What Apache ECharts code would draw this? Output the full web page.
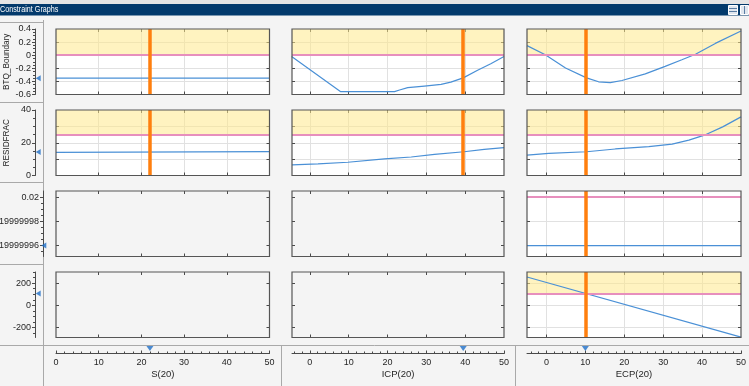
<!DOCTYPE html>
<html><head><meta charset="utf-8">
<script src="https://cdn.jsdelivr.net/npm/echarts@6/dist/echarts.min.js"></script>
<style>html,body{margin:0;padding:0;background:#f4f4f4}#c{width:749px;height:386px}</style>
</head><body><div id="c"></div><script>
// ---------------- data ----------------
const inputNames = ['S(20)', 'ICP(20)', 'ECP(20)'];
const inputRanges = [[0, 50], [-4.6, 50], [-5, 50]];
const inputCurrent = [22, 39.5, 10];
const inputTickLabels = [[0, 10, 20, 30, 40, 50], [0, 10, 20, 30, 40, 50], [0, 10, 20, 30, 40, 50]];
const inputGridTicks = [[10, 20, 30, 40], [0, 10, 20, 30, 40], [0, 10, 20, 30, 40]];

const constraintNames = ['BTQ_Boundary', 'RESIDFRAC', '', ''];
const constraintRanges = [[-0.6, 0.4], [0, 40], [0.0199999951, 0.0200000005], [-288, 300]];
const constraintBounds = [0, 25, 0.02, 108];
const constraintCurrent = [-0.35, 14.4, 0.019999996, 108];
const constraintTickLabels = [[-0.6, -0.4, -0.2, 0, 0.2, 0.4], [0, 20, 40], [0.019999996, 0.019999998, 0.02], [-200, 0, 200]];
const constraintGridTicks = [[-0.4, -0.2, 0, 0.2], [10, 20, 30], [0.019999996, 0.019999998, 0.02], [-200, 0, 200]];
const constraintMinorTicks = [
  [-0.6,-0.55,-0.5,-0.45,-0.4,-0.35,-0.3,-0.25,-0.2,-0.15,-0.1,-0.05,0,0.05,0.1,0.15,0.2,0.25,0.3,0.35,0.4],
  [0,5,10,15,20,25,30,35,40],
  [0.0199999955,0.019999996,0.0199999965,0.019999997,0.0199999975,0.019999998,0.0199999985,0.019999999,0.0199999995,0.02],
  [-250,-200,-150,-100,-50,0,50,100,150,200,250,300]
];
const inputMinorTicks = [
  [0,2,4,6,8,10,12,14,16,18,20,22,24,26,28,30,32,34,36,38,40,42,44,46,48,50],
  [-4,-2,0,2,4,6,8,10,12,14,16,18,20,22,24,26,28,30,32,34,36,38,40,42,44,46,48,50],
  [-4,-2,0,2,4,6,8,10,12,14,16,18,20,22,24,26,28,30,32,34,36,38,40,42,44,46,48,50]
];

// curves
const btqS_x = [0, 50];
const btqS_y = [-0.35, -0.35];
const btqICP_x = [-4.7, 7.95, 21.8, 23.1, 25.2, 29.5, 33.8, 36.3, 39.5, 43.2, 46.6, 50];
const btqICP_y = [-0.02, -0.557, -0.557, -0.532, -0.496, -0.471, -0.446, -0.411, -0.346, -0.23, -0.13, -0.02];
const btqECP_x = [-5, -0.3, 4.9, 10.3, 13.4, 16.4, 19.4, 25.4, 30.5, 34.8, 38.3, 43.4, 50];
const btqECP_y = [0.146, 0.006, -0.196, -0.346, -0.406, -0.42, -0.386, -0.286, -0.17, -0.07, 0.015, 0.18, 0.37];
const resS_x = [0, 50];
const resS_y = [14.1, 14.6];
const resICP_x = [-4.6, 2.1, 9.8, 19.2, 26.1, 32.1, 39.7, 44.9, 50];
const resICP_y = [6.5, 7.1, 8.1, 10.1, 11.3, 12.9, 14.5, 15.9, 17];
const resECP_x = [-5, 0.6, 10.3, 17.7, 26.3, 32.3, 36.6, 41, 45.3, 50];
const resECP_y = [12.5, 13.5, 14.5, 16.2, 17.6, 19.2, 21.6, 25, 29.7, 35.8];
const r3ECP_x = [-5, 50];
const r3ECP_y = [0.019999996, 0.019999996];
const r4ECP_x = [-5, 50];
const r4ECP_y = [255, -285];

const curves = [
  [[btqS_x, btqS_y], [btqICP_x, btqICP_y], [btqECP_x, btqECP_y]],
  [[resS_x, resS_y], [resICP_x, resICP_y], [resECP_x, resECP_y]],
  [null, null, [r3ECP_x, r3ECP_y]],
  [null, null, [r4ECP_x, r4ECP_y]]
];
const showYellow = [true, true, false, true];

// ---------------- layout ----------------
const colL = [56, 292, 527], colR = [269.5, 504, 741];
const rowT = [29, 110, 191, 272], rowH = 65.5;
const FONT = 'Liberation Sans, Arial, sans-serif';
const TXT = '#262626', AX = '#4a4a4a';

const grid = [], xAxis = [], yAxis = [], series = [], graphic = [];

function fmt(v) { return String(parseFloat(Number(v).toFixed(10))); }

for (let r = 0; r < 4; r++) {
  for (let c = 0; c < 3; c++) {
    const g = grid.length;
    const active = !!curves[r][c];
    grid.push({ left: colL[c], top: rowT[r], width: colR[c] - colL[c], height: rowH,
      show: active, backgroundColor: '#ffffff', borderWidth: 0 });
    const xb = xAxis.length;
    ['bottom', 'top'].forEach((pos, i) => xAxis.push({
      gridIndex: g, type: 'value', position: pos, min: inputRanges[c][0], max: inputRanges[c][1],
      axisLine: { show: false, onZero: false }, axisLabel: { show: false },
      axisTick: { show: true, inside: true, length: 3, customValues: inputGridTicks[c], lineStyle: { color: AX } },
      splitLine: { show: active && i === 0, lineStyle: { color: '#e1e1e1', width: 1 } }
    }));
    const yb = yAxis.length;
    ['left', 'right'].forEach((pos, i) => yAxis.push({
      gridIndex: g, type: 'value', position: pos, min: constraintRanges[r][0], max: constraintRanges[r][1],
      axisLine: { show: false, onZero: false }, axisLabel: { show: false },
      axisTick: { show: true, inside: true, length: 3, customValues: constraintGridTicks[r], lineStyle: { color: AX } },
      splitLine: { show: active && i === 0, lineStyle: { color: '#e1e1e1', width: 1 } }
    }));
    if (active) {
      const [xs, ys] = curves[r][c];
      const ml = [{ yAxis: constraintBounds[r], lineStyle: { color: '#e78fbd', width: 2, type: 'solid' } },
                  { xAxis: inputCurrent[c], lineStyle: { color: '#ff7f0e', width: 3.5, type: 'solid' } }];
      series.push({
        type: 'line', xAxisIndex: xb, yAxisIndex: yb, data: [], z: 1, silent: true,
        markArea: showYellow[r] ? { silent: true, itemStyle: { color: 'rgba(255,234,140,0.55)' },
          data: [[{ yAxis: constraintBounds[r] }, { yAxis: constraintRanges[r][1] }]] } : undefined
      });
      series.push({
        type: 'line', xAxisIndex: xb, yAxisIndex: yb, z: 3, showSymbol: false, silent: true,
        data: xs.map((x, i) => [x, ys[i]]),
        lineStyle: { color: '#4a90d6', width: 1.2 }, itemStyle: { color: '#4a90d6' }
      });
      series.push({
        type: 'line', xAxisIndex: xb, yAxisIndex: yb, data: [], z: 4, silent: true,
        markLine: { silent: true, symbol: ['none', 'none'], label: { show: false }, data: ml }
      });
    }
    graphic.push({ type: 'rect', z: 100, silent: true,
      shape: { x: colL[c], y: rowT[r], width: colR[c] - colL[c], height: rowH },
      style: { fill: 'none', stroke: '#555555', lineWidth: 1.2 } });
  }
}

// left axes per row
for (let r = 0; r < 4; r++) {
  const g = grid.length;
  grid.push({ left: 35, top: rowT[r], width: 8, height: rowH, show: false });
  const xi = xAxis.length;
  xAxis.push({ gridIndex: g, type: 'value', min: 0, max: 1, show: false });
  const yi = yAxis.length;
  yAxis.push({
    gridIndex: g, type: 'value', position: 'left', min: constraintRanges[r][0], max: constraintRanges[r][1],
    axisLine: { show: true, onZero: false, lineStyle: { color: AX, width: 1 } },
    axisTick: { show: true, inside: false, length: 3, customValues: constraintTickLabels[r], lineStyle: { color: AX } },
    axisLabel: { show: true, customValues: constraintTickLabels[r], margin: 4, formatter: fmt,
      fontFamily: FONT, fontSize: 9, color: TXT },
    splitLine: { show: false },
    name: constraintNames[r], nameLocation: 'middle', nameRotate: 90, nameGap: 24,
    nameTextStyle: { fontFamily: FONT, fontSize: 8.2, color: TXT }
  });
  yAxis.push({
    gridIndex: g, type: 'value', position: 'left', min: constraintRanges[r][0], max: constraintRanges[r][1],
    axisLine: { show: false, onZero: false }, axisLabel: { show: false }, splitLine: { show: false },
    axisTick: { show: true, inside: false, length: 2, customValues: constraintMinorTicks[r], lineStyle: { color: AX } }
  });
  series.push({ type: 'scatter', xAxisIndex: xi, yAxisIndex: yi, silent: true, z: 5,
    symbol: 'triangle', symbolRotate: 90, symbolSize: [6, 5],
    itemStyle: { color: '#1f6fc8' }, data: [[0.4, constraintCurrent[r]]] });
}

// bottom input axes
for (let c = 0; c < 3; c++) {
  const g = grid.length;
  grid.push({ left: colL[c], top: 345, width: colR[c] - colL[c], height: 8.5, show: false });
  const xi = xAxis.length;
  xAxis.push({
    gridIndex: g, type: 'value', position: 'bottom', min: inputRanges[c][0], max: inputRanges[c][1],
    axisLine: { show: true, onZero: false, lineStyle: { color: AX, width: 1 } },
    axisTick: { show: true, inside: true, length: 3, customValues: inputTickLabels[c], lineStyle: { color: AX } },
    axisLabel: { show: true, customValues: inputTickLabels[c], margin: 5, fontFamily: FONT, fontSize: 9, color: TXT },
    splitLine: { show: false },
    name: inputNames[c], nameLocation: 'middle', nameGap: 16,
    nameTextStyle: { fontFamily: FONT, fontSize: 9.5, color: TXT }
  });
  xAxis.push({
    gridIndex: g, type: 'value', position: 'bottom', min: inputRanges[c][0], max: inputRanges[c][1],
    axisLine: { show: false, onZero: false }, axisLabel: { show: false }, splitLine: { show: false },
    axisTick: { show: true, inside: true, length: 2, customValues: inputMinorTicks[c], lineStyle: { color: AX } }
  });
  const yi = yAxis.length;
  yAxis.push({ gridIndex: g, type: 'value', min: 0, max: 1, show: false });
  series.push({ type: 'scatter', xAxisIndex: xi, yAxisIndex: yi, silent: true, z: 5,
    symbol: 'triangle', symbolRotate: 180, symbolSize: [7, 5],
    itemStyle: { color: '#1f6fc8' }, data: [[inputCurrent[c], 0.6]] });
}

// window chrome and panel separators
const SEP = '#a9a9a9';
graphic.push(
  { type: 'rect', silent: true, shape: { x: 0, y: 0, width: 749, height: 4 }, style: { fill: '#e4e4e4' } },
  { type: 'rect', silent: true, shape: { x: 0, y: 4, width: 749, height: 11.5 }, style: { fill: '#033a6c' } },
  { type: 'text', silent: true, x: 0, y: 10, scaleX: 0.8, style: { text: 'Constraint Graphs', fill: '#ffffff',
      font: '9px ' + FONT, verticalAlign: 'middle' } },
  { type: 'rect', silent: true, shape: { x: 728.5, y: 5.5, width: 9, height: 9 }, style: { fill: '#dfe6ee', stroke: '#ffffff', lineWidth: 1 } },
  { type: 'line', silent: true, shape: { x1: 729, y1: 8.5, x2: 737, y2: 8.5 }, style: { stroke: '#5a7da3', lineWidth: 1 } },
  { type: 'line', silent: true, shape: { x1: 729, y1: 11.5, x2: 737, y2: 11.5 }, style: { stroke: '#5a7da3', lineWidth: 1 } },
  { type: 'rect', silent: true, shape: { x: 740.5, y: 5.5, width: 8, height: 9 }, style: { fill: '#dfe6ee', stroke: '#ffffff', lineWidth: 1 } },
  { type: 'line', silent: true, shape: { x1: 744.5, y1: 6, x2: 744.5, y2: 14 }, style: { stroke: '#5a7da3', lineWidth: 1 } },
  { type: 'line', silent: true, shape: { x1: 43.5, y1: 20, x2: 43.5, y2: 386 }, style: { stroke: SEP, lineWidth: 1 } },
  { type: 'line', silent: true, shape: { x1: 0, y1: 22.5, x2: 43.5, y2: 22.5 }, style: { stroke: SEP, lineWidth: 1 } },
  { type: 'line', silent: true, shape: { x1: 0, y1: 102.5, x2: 43.5, y2: 102.5 }, style: { stroke: SEP, lineWidth: 1 } },
  { type: 'line', silent: true, shape: { x1: 0, y1: 182.5, x2: 43.5, y2: 182.5 }, style: { stroke: SEP, lineWidth: 1 } },
  { type: 'line', silent: true, shape: { x1: 0, y1: 264.5, x2: 43.5, y2: 264.5 }, style: { stroke: SEP, lineWidth: 1 } },
  { type: 'line', silent: true, shape: { x1: 0, y1: 345.5, x2: 749, y2: 345.5 }, style: { stroke: SEP, lineWidth: 1 } },
  { type: 'line', silent: true, shape: { x1: 281.5, y1: 345.5, x2: 281.5, y2: 386 }, style: { stroke: SEP, lineWidth: 1 } },
  { type: 'line', silent: true, shape: { x1: 515.5, y1: 345.5, x2: 515.5, y2: 386 }, style: { stroke: SEP, lineWidth: 1 } }
);

const chart = echarts.init(document.getElementById('c'), null, { renderer: 'canvas' });
chart.setOption({ backgroundColor: '#f4f4f4', animation: false, grid, xAxis, yAxis, series, graphic });
</script></body></html>
